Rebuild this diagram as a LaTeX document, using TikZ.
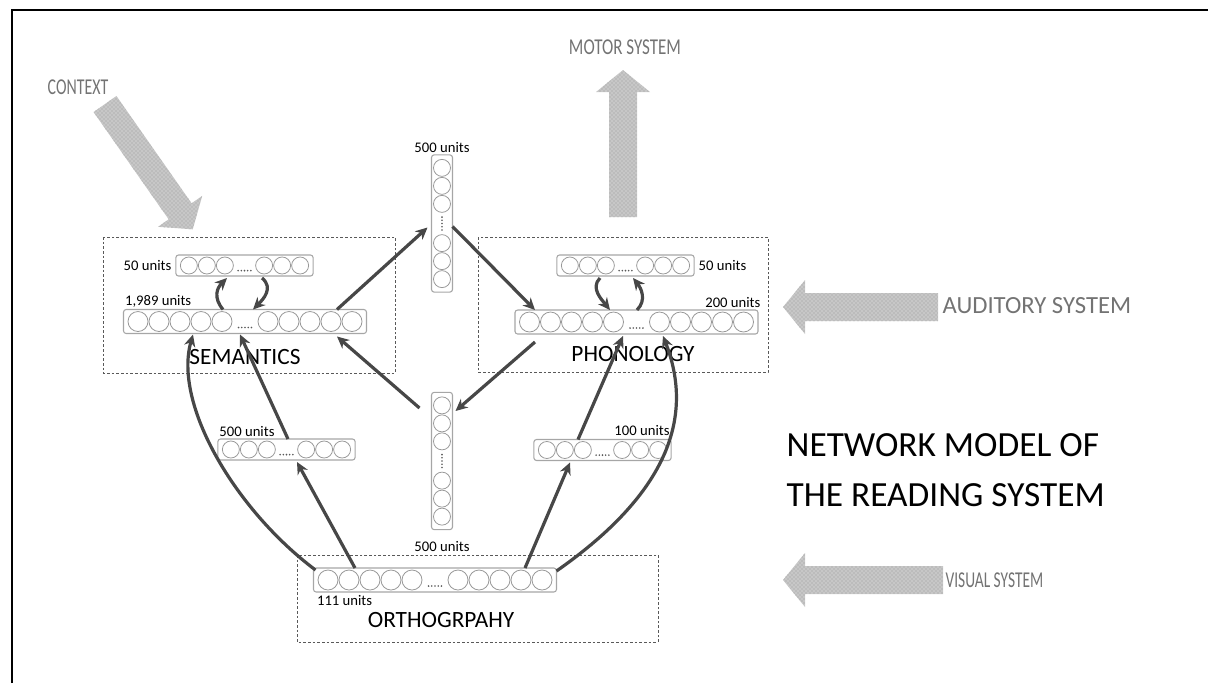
\documentclass[tikz,border=0pt]{standalone}
\usepackage{fontspec}
\setmainfont{Carlito}
\usetikzlibrary{arrows.meta,patterns}

\tikzset{
  layer/.style={draw=black!35, line width=.8pt, rounded corners=2pt, inner sep=0pt, outer sep=0pt},
  unit/.style={draw=black!40, line width=.6pt},
  group/.style={draw=black!65, line width=.6pt, dash pattern=on 2pt off 1.5pt},
  link/.style={draw=black!72, line width=2.4pt, -{Stealth[length=9pt,width=8.5pt]}},
  lbl/.style={font=\fontsize{11}{12}\selectfont, inner sep=1pt},
  area/.style={font=\fontsize{17.5}{20}\selectfont, inner sep=1pt},
  sense/.style={font=\fontsize{17}{20}\selectfont, text=black!55, inner sep=1pt},
  bigarrow/.style={fill=black!22, postaction={pattern=crosshatch dots, pattern color=black!40}},
  fatarrow/.pic={
    \fill[bigarrow] (0,-14) -- ({#1-22},-14) -- ({#1-22},-27) -- (#1,0) -- ({#1-22},27) -- ({#1-22},14) -- (0,14) -- cycle;
  },
}

% horizontal layer: name, centre x, centre y, circles each side, circle size
\newcommand{\hlayer}[5]{%
  \pgfmathsetmacro\lgap{1.25*#5}%
  \pgfmathsetmacro\llen{2*#4*(#5+1)+\lgap+8}%
  \pgfmathsetmacro\lleft{#2-\llen/2}%
  \node[layer, minimum width=\llen*.75pt, minimum height=(#5+4)*.75pt] (#1) at (#2,#3) {};
  \foreach \i in {1,...,#4}{
    \draw[unit] ({\lleft+4+(\i-.5)*(#5+1)},#3) circle ({#5/2});
    \draw[unit] ({\lleft+4+#4*(#5+1)+\lgap+(\i-.5)*(#5+1)},#3) circle ({#5/2});
  }
  \foreach \j in {-2,...,2}
    \fill[black!65] ({\lleft+4+#4*(#5+1)+\lgap/2+\j*3.2},{#3+#5*.3}) circle (.9);
}

% vertical layer: same arguments
\newcommand{\vlayer}[5]{%
  \pgfmathsetmacro\lgap{1.25*#5}%
  \pgfmathsetmacro\llen{2*#4*(#5+1)+\lgap+8}%
  \pgfmathsetmacro\ltop{#3-\llen/2}%
  \node[layer, minimum width=(#5+4)*.75pt, minimum height=\llen*.75pt] (#1) at (#2,#3) {};
  \foreach \i in {1,...,#4}{
    \draw[unit] (#2,{\ltop+4+(\i-.5)*(#5+1)}) circle ({#5/2});
    \draw[unit] (#2,{\ltop+4+#4*(#5+1)+\lgap+(\i-.5)*(#5+1)}) circle ({#5/2});
  }
  \foreach \j in {-2,...,2}
    \fill[black!65] (#2,{\ltop+4+#4*(#5+1)+\lgap/2+\j*3.2}) circle (.9);
}

\begin{document}
\begin{tikzpicture}[x=.75pt,y=-.75pt]
  \useasboundingbox (0,0) rectangle (1208,683);
  \draw[line width=1.5pt] (12,683) -- (12,10) -- (1208,10);

  % outside systems
  \pic[rotate=-55] at (105,104) {fatarrow=153};
  \pic[rotate=90] at (623,217) {fatarrow=147};
  \pic[rotate=180] at (938,307) {fatarrow=155};
  \pic[rotate=180] at (943,580) {fatarrow=160};
  \node[sense] (ctx) at (78,87) {\scalebox{.7}[1]{CONTEXT}};
  \node[sense] (mot) at (625,47) {\scalebox{.75}[1]{MOTOR SYSTEM}};
  \node[sense, font=\fontsize{18.5}{20}\selectfont, anchor=west] (aud) at (941,306) {AUDITORY SYSTEM};
  \node[sense, anchor=west] (vis) at (944,580) {\scalebox{.68}[1]{VISUAL SYSTEM}};

  % areas
  \draw[group] (103,237) rectangle (395,373);
  \draw[group] (478,237) rectangle (768,372);
  \draw[group] (297,555) rectangle (658,642);

  \hlayer{semU}{244.5}{265.5}{3}{17}
  \hlayer{semL}{245}{321.5}{5}{20}
  \hlayer{phoU}{625.5}{265.5}{3}{17}
  \hlayer{phoL}{636.5}{322}{5}{20}
  \hlayer{hidS}{286.5}{449.5}{3}{17}
  \hlayer{hidP}{602.5}{450}{3}{17}
  \hlayer{orth}{435}{580}{5}{20}
  \vlayer{colU}{442}{223.5}{3}{17}
  \vlayer{colD}{442}{461}{3}{17}

  \node[lbl, anchor=east] at ([shift={(-3,0)}]semU.west) {50 units};
  \node[lbl, anchor=south west] at ([shift={(0,-1)}]semL.north west) {1,989 units};
  \node[lbl, anchor=west] at ([shift={(3,0)}]phoU.east) {50 units};
  \node[lbl, anchor=south east] at ([shift={(4,-1)}]phoL.north east) {200 units};
  \node[lbl, anchor=south] at ([shift={(0,-1)}]colU.north) {500 units};
  \node[lbl, anchor=north] at ([shift={(0,10)}]colD.south) {500 units};
  \node[lbl, anchor=south west] at ([shift={(0,-1)}]hidS.north west) {500 units};
  \node[lbl, anchor=south east] at ([shift={(0,-2)}]hidP.north east) {100 units};
  \node[lbl, anchor=north west] at ([shift={(2,2)}]orth.south west) {111 units};

  \node[area] (sem) at (245,357) {SEMANTICS};
  \node[area] (pho) at (633,354) {PHONOLOGY};
  \node[area] (ort) at (441,620) {ORTHOGRPAHY};

  \node[font=\fontsize{26.5}{37.5}\selectfont, align=left, anchor=west] (title) at (782,470)
    {NETWORK MODEL OF\\THE READING SYSTEM};

  % connections
  \draw[link] ([shift={(-80,0)}]orth.north) -- ([shift={(10.5,2)}]hidS.south);
  \draw[link] ([shift={(1.5,0)}]hidS.north) -- ([shift={(-5,1)}]semL.south);
  \draw[link] ([shift={(90,0)}]orth.north) -- ([shift={(-32.5,2)}]hidP.south);
  \draw[link] ([shift={(-24.5,0)}]hidP.north) -- ([shift={(-13.5,2)}]phoL.south);
  \draw[link] ([shift={(92,0)}]semL.north) -- ([shift={(-4,4)}]colU.west);
  \draw[link] ([shift={(0,3)}]colU.east) -- ([shift={(-101.5,0)}]phoL.north);
  \draw[link] ([shift={(-101.5,8)}]phoL.south) -- ([shift={(3,-50)}]colD.east);
  \draw[link] ([shift={(-12,-53)}]colD.west) -- ([shift={(92,3)}]semL.south);
  \draw[link] ([shift={(2,2)}]orth.north west) .. controls +(-80,-60) and +(-20,70) .. ([shift={(-52,1)}]semL.south);
  \draw[link] ([shift={(0,3)}]orth.north east) .. controls +(100,-70) and +(35,90) .. ([shift={(26.5,2)}]phoL.south);

  % loops inside the areas
  \draw[link] ([shift={(-22,0)}]semL.north) .. controls +(-10,-12) and +(-10,10) .. ([shift={(-17.5,2)}]semU.south);
  \draw[link] ([shift={(17.5,2)}]semU.south) .. controls +(12,10) and +(10,-10) .. ([shift={(8,0)}]semL.north);
  \draw[link] ([shift={(-25.5,2)}]phoU.south) .. controls +(-10,10) and +(-8,-10) .. ([shift={(-26.5,0)}]phoL.north);
  \draw[link] ([shift={(.5,0)}]phoL.north) .. controls +(10,-10) and +(8,10) .. ([shift={(7.5,2)}]phoU.south);
\end{tikzpicture}
\end{document}
